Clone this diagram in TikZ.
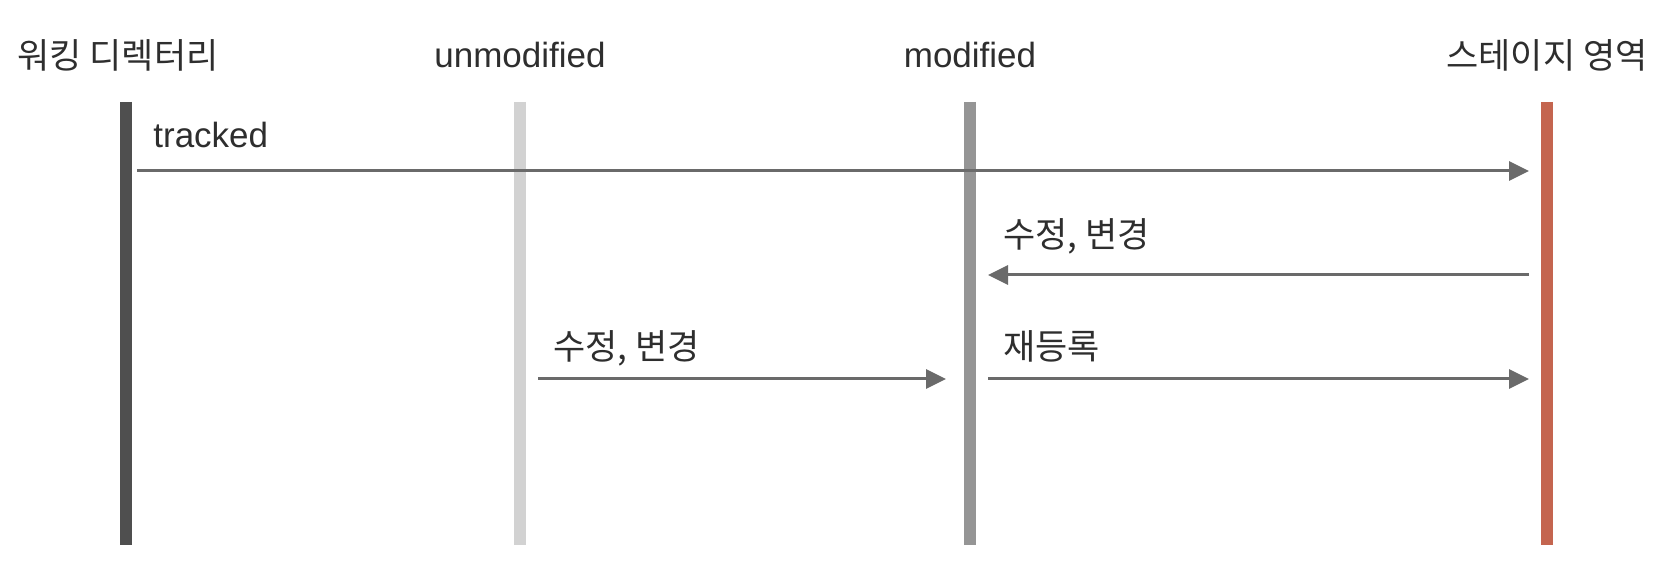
\documentclass[tikz,border=0pt]{standalone}
\usepackage{fontspec}
\setmainfont{Liberation Sans}
\newfontfamily\kr{Noto Sans CJK KR}
\usetikzlibrary{positioning,arrows.meta}

\definecolor{wdgray}{HTML}{4F4F4F}
\definecolor{ungray}{HTML}{D2D2D2}
\definecolor{modgray}{HTML}{959595}
\definecolor{stagered}{HTML}{C4654F}
\definecolor{msggray}{HTML}{6A6A6A}
\definecolor{txtgray}{HTML}{2E2E2E}

\begin{document}
\begin{tikzpicture}[
      x=0.5pt, y=-0.5pt,
      >={Triangle[length=10pt,width=9.5pt]},
      lane/.style={line width=6pt},
      title/.style={font=\fontsize{17.5}{20}\selectfont, text=txtgray, anchor=base, inner sep=0pt},
      msg/.style={->, draw=msggray, fill=msggray, line width=1.5pt, shorten <=9pt, shorten >=9pt},
      msglabel/.style={font=\fontsize{17.5}{20}\selectfont, text=txtgray, anchor=base west, inner sep=0pt},
    ]
    \useasboundingbox (0,0) rectangle (1674,576);

    % Lanes
    \coordinate (wd-top) at (126,102);   \coordinate (wd-bot) at (126,545);
    \coordinate (un-top) at (520,102);   \coordinate (un-bot) at (520,545);
    \coordinate (mod-top) at (970,102);  \coordinate (mod-bot) at (970,545);
    \coordinate (st-top) at (1547,102);  \coordinate (st-bot) at (1547,545);
    \draw[lane, wdgray] (wd-top) -- (wd-bot);
    \draw[lane, ungray] (un-top) -- (un-bot);
    \draw[lane, modgray] (mod-top) -- (mod-bot);
    \draw[lane, stagered] (st-top) -- (st-bot);

    % Lane titles
    \node[title] (wd) at (118,69) {\kr 워킹 디렉터리};
    \node[title] (un) at (520,68) {unmodified};
    \node[title] (mod) at (970,68) {modified};
    \node[title] (st) at (1547,69) {\kr 스테이지 영역};

    % Message rows
    \coordinate (wd-1) at (126,171);  \coordinate (st-1) at (1547,171);
    \coordinate (mod-2) at (970,275); \coordinate (st-2) at (1547,275);
    \coordinate (un-3) at (520,379);  \coordinate (mod-3) at (970,379);
    \coordinate (st-3) at (1547,379);

    \draw[msg, shorten <=5.5pt] (wd-1) -- (st-1);
    \draw[msg] (st-2) -- (mod-2);
    \draw[msg, shorten >=12pt] (un-3) -- (mod-3);
    \draw[msg] (mod-3) -- (st-3);

    % Message labels
    \node[msglabel] (l-trk) at (153,148) {tracked};
    \node[msglabel] (l-edit1) at (1003,248) {\kr 수정, 변경};
    \node[msglabel] (l-edit2) at (553,360) {\kr 수정, 변경};
    \node[msglabel] (l-readd) at (1003,360) {\kr 재등록};
  \end{tikzpicture}
\end{document}
